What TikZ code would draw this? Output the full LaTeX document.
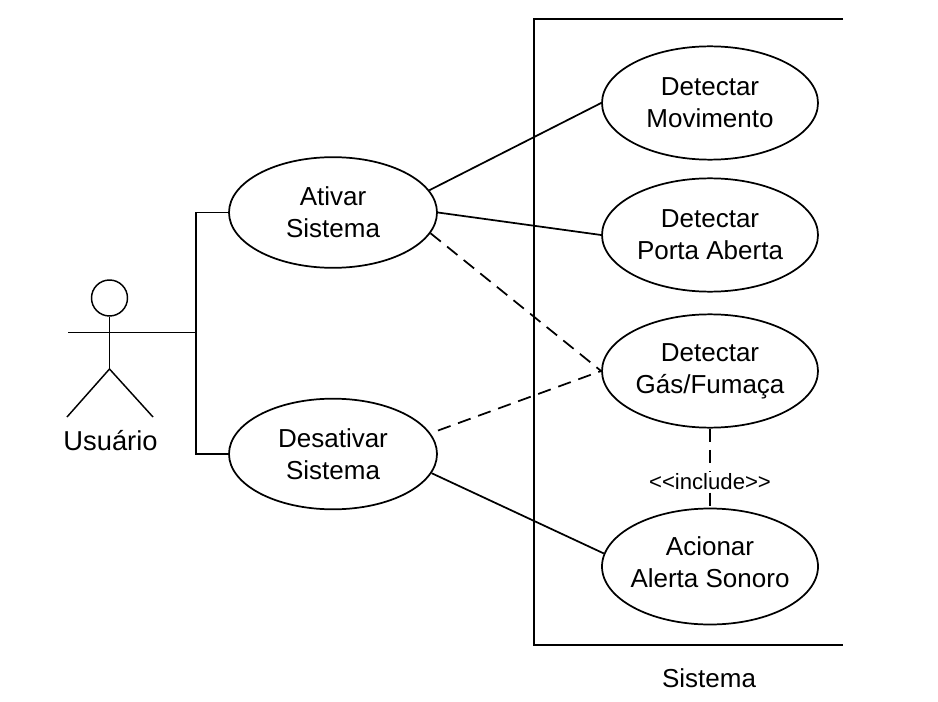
\documentclass[tikz,border=0pt]{standalone}
\usepackage{fontspec}
\usepackage{tikz}
\usetikzlibrary{shapes.geometric}
\setmainfont{Liberation Sans}
\newcommand\mytextsize{\fontsize{19.5}{24}\selectfont}
\tikzset{
	usecase/.style 2 args = {draw, ellipse, inner sep=-10pt, minimum width=#1, minimum height=#2, line width=1.3pt, align=center, font=\mytextsize},
	link/.style = {line width=1.3pt},
	dashlink/.style = {line width=1.3pt, dash pattern=on 10pt off 6pt},
	limb/.style = {line width=1.1pt}
}

\begin{document}
\begin{tikzpicture}[x=0.75pt, y=-0.75pt]
	\useasboundingbox (0,0) rectangle (938,702);
	\draw[link] (843,19) -- (534,19) -- (534,645) -- (843,645);
	\node at (709,678) (sistema) [font=\mytextsize] {Sistema};

	\node at (333,212.5) (ativar) [usecase={156pt}{83pt}] {Ativar\\Sistema\rule[-1pt]{0pt}{1pt}};
	\node at (333,454) (desativar) [usecase={156pt}{83pt}] {Desativar\\Sistema};
	\node at (710,103) (movimento) [usecase={162pt}{85pt}] {Detectar\\Movimento};
	\node at (710,235) (porta) [usecase={162pt}{85pt}] {Detectar\\Porta Aberta};
	\node at (710,371) (gas) [usecase={162pt}{85pt}] {Detectar\\Gás/Fumaça};
	\node at (710,566.5) (acionar) [usecase={162pt}{87pt}] {Acionar\\Alerta Sonoro\rule[-6pt]{0pt}{6pt}};

	\node at (109.5,298) (head) [draw, circle, inner sep=0pt, minimum size=27pt, line width=1.1pt] {};
	\coordinate (hand) at (68,332.5);
	\coordinate (junction) at (196,332.5);
	\coordinate (hip) at (109.5,369);
	\coordinate (footleft) at (67,417);
	\coordinate (footright) at (153,417);
	\node at (110.5,441) (usuario) [font=\fontsize{20.5}{24}\selectfont] {Usuário};
	\draw[limb] (head) -- (hip);
	\draw[limb] (footleft) -- (hip) -- (footright);
	\draw[link] (hand) -- (junction);

	\draw[link] (ativar.west) -| (junction) |- (desativar.west);
	\draw[link] (ativar.13) -- (movimento.west);
	\draw[link] (ativar.east) -- (porta.west);
	\draw[link] (desativar.-11) -- (acionar.173);
	\draw[dashlink] (ativar.-12) -- (gas.west);
	\draw[dashlink, shorten <=6pt] (desativar.12) -- (gas.west);
	\draw[dashlink] (gas.south) -- (acionar.north) node[pos=0.67, fill=white, inner sep=1pt, font=\fontsize{16.6}{20}\selectfont] (includelabel) {<{}<include>{}>};
\end{tikzpicture}
\end{document}
